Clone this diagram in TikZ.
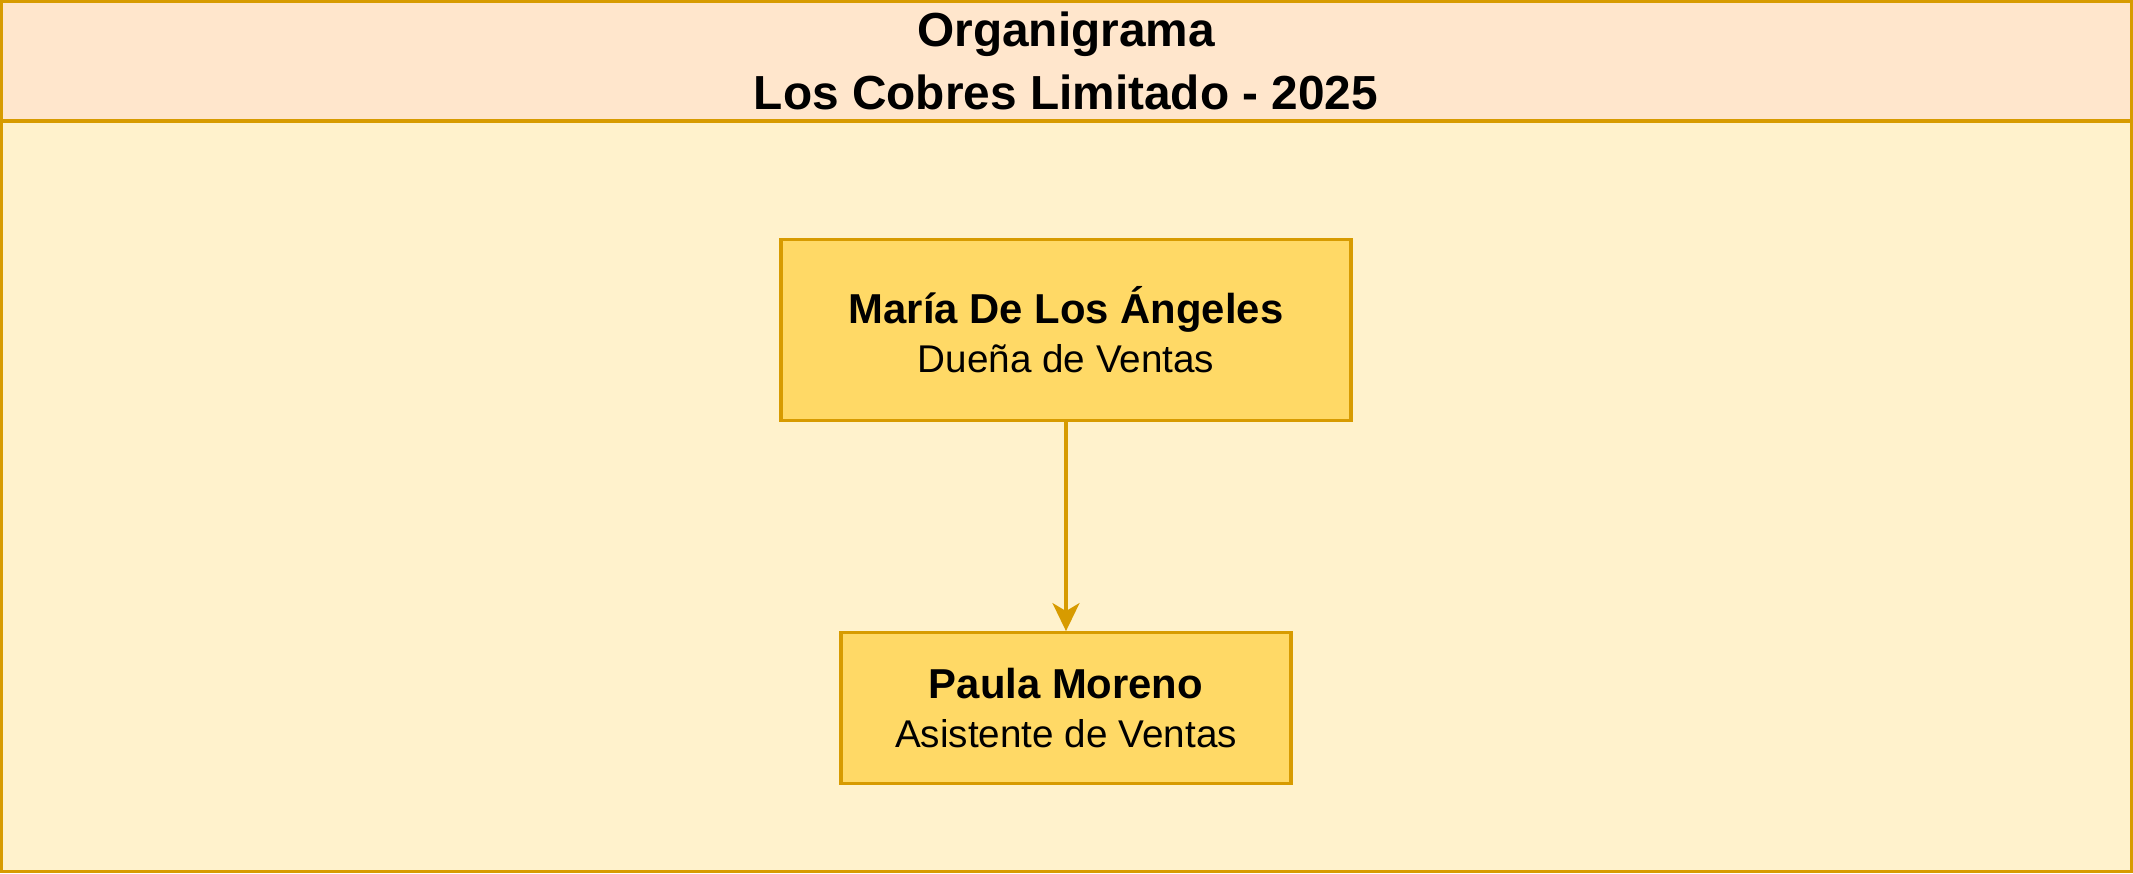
\documentclass[tikz,border=0pt]{standalone}
\usepackage{fontspec}
\setmainfont{Liberation Sans}
\usetikzlibrary{arrows.meta,positioning}
\definecolor{orgline}{HTML}{D79B00}
\definecolor{orghead}{HTML}{FFE6CC}
\definecolor{orgbody}{HTML}{FFF2CC}
\definecolor{orgbox}{HTML}{FFD966}
\tikzset {
    person/.style={draw=orgline, fill=orgbox, line width=0.9pt,
        align=center, inner sep=0pt, font=\fontsize{11}{14}\selectfont},
    frame/.style={draw=orgline, line width=0.9pt},
    link/.style={draw=orgline, line width=0.9pt,
        -{Stealth[length=2.8mm, width=2.7mm, inset=0.8mm]}},
    node distance=20.9mm
}
\begin{document}
\begin{tikzpicture}[x=0.1mm, y=-0.1mm]

        \useasboundingbox (0,0) rectangle (2133,873);
        \fill[orgbody] (0,0) rectangle (2133,873);
        \fill[orghead] (0,0) rectangle (2133,121);
        \draw[frame] (0,121) -- (2133,121);
        \draw[frame] (1.5,1.5) rectangle (2131.5,871.5);

        \node[align=center, font=\fontsize{13.6}{17.8}\selectfont\bfseries]
            (title) at (1066,61) {Organigrama\\Los Cobres Limitado - 2025};

        \node[person, minimum width=57mm, minimum height=18.1mm] (maria) at (1066,330)
            {{\fontsize{11.9}{14}\selectfont\bfseries María De Los Ángeles}\\
             Dueña de Ventas};
        \node[person, minimum width=45mm, minimum height=15.1mm, below=of maria] (paula)
            {{\fontsize{11.9}{14}\selectfont\bfseries Paula Moreno}\\
             Asistente de Ventas};

        \draw[link] (maria) -- (paula);

    \end{tikzpicture}
\end{document}
